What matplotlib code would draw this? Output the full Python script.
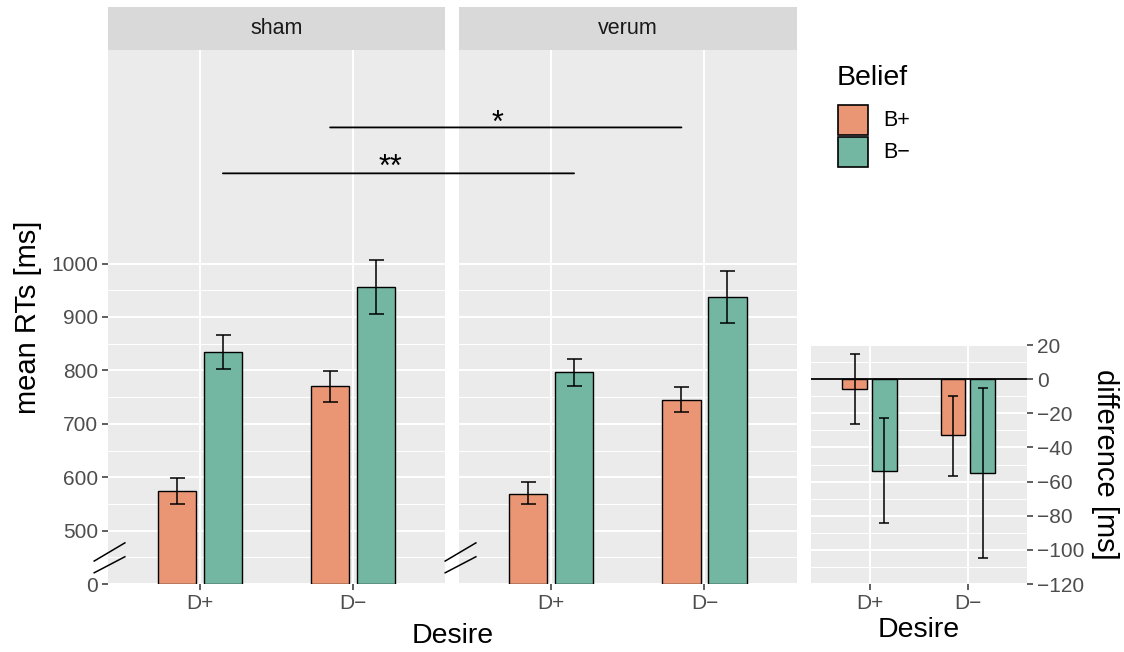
import matplotlib
matplotlib.use("Agg")
import matplotlib.pyplot as plt
from matplotlib.patches import Rectangle, ConnectionPatch
import numpy as np

plt.rcParams['font.family'] = ['Liberation Sans', 'DejaVu Sans']

# ---- data ----
conditions = ['sham', 'verum']
desire = ['D+', 'D\u2212']
belief = ['B+', 'B\u2212']

# mean RTs [ms] per condition, belief -> one value per desire level
rt_mean = {'sham':  {'B+': [574, 770], 'B\u2212': [835, 956]},
           'verum': {'B+': [569, 745], 'B\u2212': [797, 937]}}
rt_lo = {'sham':  {'B+': [549, 741], 'B\u2212': [803, 906]},
         'verum': {'B+': [549, 722], 'B\u2212': [771, 888]}}
rt_hi = {'sham':  {'B+': [598, 798], 'B\u2212': [867, 1006]},
         'verum': {'B+': [591, 769], 'B\u2212': [822, 986]}}

# difference (verum - sham) [ms]
diff_mean = {'B+': [-6, -33], 'B\u2212': [-54, -55]}
diff_lo = {'B+': [-26, -57], 'B\u2212': [-84, -105]}
diff_hi = {'B+': [15, -10], 'B\u2212': [-23, -5]}

# significance brackets: x in sham, x in verum, y, label
sig = [(1.15, 1.15, 1169, '**'), (1.85, 1.85, 1255, '*')]

rt_ticks = [400, 500, 600, 700, 800, 900, 1000]
rt_ticklabels = ['0', '500', '600', '700', '800', '900', '1000']
diff_ticks = [20, 0, -20, -40, -60, -80, -100, -120]

colors = {'B+': '#EA9674', 'B\u2212': '#73B6A1'}
dodge = {'B+': -0.15, 'B\u2212': 0.15}

W, H = 1124, 652
fig = plt.figure(figsize=(W / 100, H / 100), dpi=100)

def fbox(x0, y0, x1, y1):
    # pixel box (top-left origin) -> figure fraction rect
    return [x0 / W, 1 - y1 / H, (x1 - x0) / W, (y1 - y0) / H]

def fpt(px, py):
    return px / W, 1 - py / H

TICK_COL = '#333333'
LAB_COL = '#4D4D4D'
TITLE = 20.5

def style_axis(ax):
    ax.set_facecolor('#EBEBEB')
    for s in ax.spines.values():
        s.set_visible(False)
    ax.tick_params(colors=TICK_COL, labelcolor=LAB_COL, labelsize=15,
                   length=4, width=1.1, pad=3)
    ax.grid(which='major', color='white', lw=1.4)
    ax.grid(which='minor', color='white', lw=0.7)
    ax.set_axisbelow(True)

x = np.arange(1, len(desire) + 1)
axes = []
panels = [(108, 445), (459, 796.5)]
for ci, cond in enumerate(conditions):
    x0, x1 = panels[ci]
    ax = fig.add_axes(fbox(x0, 50, x1, 584))
    style_axis(ax)
    for b in belief:
        ax.bar(x + dodge[b], np.array(rt_mean[cond][b]) - 400, bottom=400,
               width=0.25, color=colors[b], edgecolor='black', lw=1.0, zorder=3)
        m = np.array(rt_mean[cond][b])
        ax.errorbar(x + dodge[b], m,
                    yerr=[m - np.array(rt_lo[cond][b]), np.array(rt_hi[cond][b]) - m],
                    fmt='none', ecolor='black', elinewidth=1.1, capsize=5.4,
                    capthick=1.1, zorder=4)
    ax.set_xlim(0.4, 2.6)
    ax.set_ylim(400, 1400)
    ax.set_xticks(x)
    ax.set_xticklabels(desire)
    ax.set_yticks(rt_ticks)
    ax.set_yticks(np.arange(450, 1000, 100), minor=True)
    ax.xaxis.set_tick_params(which='minor', length=0)
    if ci == 0:
        ax.set_yticklabels(rt_ticklabels)
        ax.tick_params(axis='y', which='minor', length=0)
    else:
        ax.tick_params(axis='y', which='both', length=0, labelleft=False)
    # axis break marks
    for y0, y1 in [(421, 451), (443, 477)]:
        ax.plot([0.31, 0.51], [y0, y1], color='black', lw=1.1,
                clip_on=False, zorder=5)
    # facet strip
    sax = fig.add_axes(fbox(x0, 7, x1, 50))
    sax.set_facecolor('#D9D9D9')
    for s in sax.spines.values():
        s.set_visible(False)
    sax.set_xticks([])
    sax.set_yticks([])
    sax.text(0.5, 0.5, cond, ha='center', va='center', fontsize=15.5,
             color='#1A1A1A', transform=sax.transAxes)
    axes.append(ax)

ax_s, ax_v = axes
ax_s.set_ylabel('mean RTs [ms]', fontsize=21, labelpad=7)

# significance brackets spanning both facets
for xa, xb, yv, lab in sig:
    con = ConnectionPatch(xyA=(xa, yv), coordsA=ax_s.transData,
                          xyB=(xb, yv), coordsB=ax_v.transData,
                          color='black', lw=1.3, zorder=6)
    fig.add_artist(con)
fig.text(*fpt(390, 168), sig[0][3], ha='center', va='center', fontsize=22)
fig.text(*fpt(498, 124), sig[1][3], ha='center', va='center', fontsize=22)

fig.text(*fpt((108 + 796.5) / 2, 636), 'Desire', ha='center', va='center',
         fontsize=TITLE)

# ---- difference panel ----
axd = fig.add_axes(fbox(810.5, 345, 1027, 584))
style_axis(axd)
for b in belief:
    m = np.array(diff_mean[b])
    axd.bar(x + dodge[b], m, width=0.25, color=colors[b], edgecolor='black',
            lw=1.0, zorder=3)
    axd.errorbar(x + dodge[b], m,
                 yerr=[m - np.array(diff_lo[b]), np.array(diff_hi[b]) - m],
                 fmt='none', ecolor='black', elinewidth=1.1, capsize=3.4,
                 capthick=1.1, zorder=4)
axd.axhline(0, color='black', lw=1.3, zorder=5)
axd.set_xlim(0.4, 2.6)
axd.set_ylim(-120, 20)
axd.set_xticks(x)
axd.set_xticklabels(desire)
axd.set_yticks(diff_ticks)
axd.set_yticklabels([str(t).replace('-', '\u2212') for t in diff_ticks])
axd.set_yticks(np.arange(-110, 20, 20), minor=True)
axd.tick_params(axis='both', which='minor', length=0)
axd.yaxis.tick_right()
axd.yaxis.set_label_position('right')
axd.set_ylabel('difference [ms]', fontsize=21, rotation=270, labelpad=25)
axd.set_xlabel('Desire', fontsize=TITLE, labelpad=3)

# ---- legend ----
fig.text(*fpt(837, 78), 'Belief', ha='left', va='center', fontsize=TITLE)
for i, b in enumerate(belief):
    y0 = 105 + i * 32
    fig.add_artist(Rectangle(fpt(838, y0 + 30), 30 / W, 30 / H,
                             transform=fig.transFigure, facecolor=colors[b],
                             edgecolor='black', lw=1.2))
    fig.text(*fpt(883, y0 + 16), b, ha='left', va='center', fontsize=15.5)

fig.savefig('out.png', dpi=100)
